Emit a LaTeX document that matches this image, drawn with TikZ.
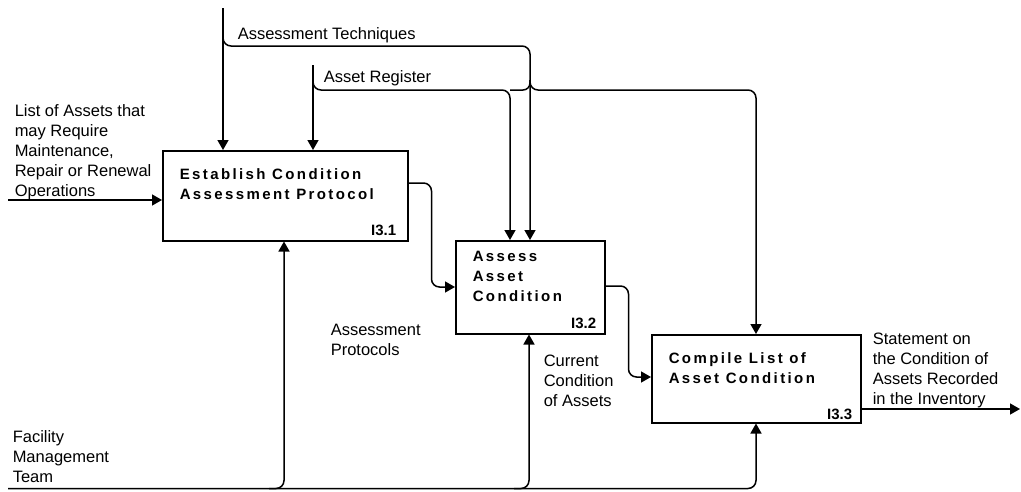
\documentclass[tikz,border=0pt]{standalone}
\usepackage{fontspec}
\setmainfont{Liberation Sans}
\newfontfamily\boxfont{Liberation Sans}[LetterSpace=16.0]
\usetikzlibrary{arrows.meta,calc}
\begin{document}
\begin{tikzpicture}[x=1pt,y=-1pt,line width=1.5pt,
  flow/.style={-{Triangle[length=10pt,width=11pt]},rounded corners=8pt},
  pipe/.style={rounded corners=7pt},
  activity/.style={draw,anchor=north west,inner sep=0pt},
  title/.style={anchor=base west,align=left,inner sep=0pt,
    font=\boxfont\bfseries\fontsize{15}{20}\selectfont},
  num/.style={anchor=base east,inner sep=0pt,font=\bfseries\fontsize{15}{18}\selectfont},
  lbl/.style={anchor=base west,align=left,inner sep=0pt,
    font=\fontsize{16.5}{20}\selectfont}]
\useasboundingbox (0,0) rectangle (1021,491);

% activity boxes
\node[activity,minimum width=245pt,minimum height=90pt] (b1) at (162,150) {};
\node[activity,minimum width=149pt,minimum height=93pt] (b2) at (455,240) {};
\node[activity,minimum width=209pt,minimum height=88pt] (b3) at (651,334) {};

% box titles (placed by the baseline of their last line)
\node[title] (t1) at (179,199) {Establish Condition\\Assessment Protocol};
\node[title] (t2) at (472,301) {Assess\\Asset\\Condition};
\node[title] (t3) at (668,383) {Compile List of\\Asset Condition};
\node[num] (n1) at (397,235) {I3.1};
\node[num] (n2) at (597,328) {I3.2};
\node[num] (n3) at (853,419) {I3.3};

% attachment points on the boxes
\coordinate (i1)  at ($(b1.north west)+(0,50)$);
\coordinate (c2a) at ($(b2.north west)+(55,0)$);
\coordinate (c2b) at ($(b2.north west)+(75,0)$);
\coordinate (c3)  at ($(b3.north west)+(105,0)$);
\coordinate (o1)  at ($(b1.north east)+(0,33)$);
\coordinate (i2)  at ($(b2.north west)+(0,47)$);
\coordinate (o2)  at ($(b2.north east)+(0,46)$);
\coordinate (i3)  at ($(b3.north west)+(0,43)$);
\coordinate (o3)  at ($(b3.north east)+(0,75)$);
\coordinate (m1)  at ($(b1.south west)+(122,0)$);
\coordinate (m2)  at ($(b2.south west)+(74,0)$);
\coordinate (m3)  at ($(b3.south west)+(105,0)$);

% free ends and branch points
\coordinate (inL) at (8,200);
\coordinate (techTop) at (223,8);
\coordinate (techSplit) at (223,30);
\coordinate (techRun) at (223,46);
\coordinate (regTop) at (313,65);
\coordinate (regSplit) at (313,75);
\coordinate (regRun) at (313,90);
\coordinate (jn) at ($(c2b |- regRun)+(0,-10)$);
\coordinate (outR) at (1020,409);
\coordinate (mechL) at (8,488.5);
\coordinate (m1f) at ($(mechL -| m1)+(-15,0)$);
\coordinate (m2f) at ($(mechL -| m2)+(-15,0)$);

% input
\draw[flow] (inL) -- (i1);

% controls
\draw[flow] (techTop) -- (techTop |- b1.north);
\draw[flow] (techSplit) -- (techRun) -- (techRun -| c2b) -- (c2b);
\draw[flow] (regTop) -- (regTop |- b1.north);
\draw[flow] (regSplit) -- (regRun) -- (regRun -| c2a) -- (c2a);
\draw[pipe] (regRun -| c2a) -- (regRun -| c2b) -- (jn);
\draw[flow] (jn) -- (jn |- regRun) -- (regRun -| c3) -- (c3);

% outputs
\draw[flow] (o1) -- ++(23,0) |- (i2);
\draw[flow] (o2) -- ++(23,0) |- (i3);
\draw[flow] (o3) -- (outR);

% mechanisms
\draw[flow] (mechL) -| (m3);
\draw[flow] (m1f) -| (m1);
\draw[flow] (m2f) -| (m2);

% labels (placed by the baseline of their last line)
\node[lbl] (lTech) at (237,39) {Assessment Techniques};
\node[lbl] (lReg) at (323,82) {Asset Register};
\node[lbl] (lIn) at (14,196) {List of Assets that\\may Require\\Maintenance,\\Repair or Renewal\\Operations};
\node[lbl] (lProt) at (330,355) {Assessment\\Protocols};
\node[lbl] (lCur) at (543,406) {Current\\Condition\\of Assets};
\node[lbl] (lOut) at (872,404) {Statement on\\the Condition of\\Assets Recorded\\in the Inventory};
\node[lbl] (lMech) at (12,482) {Facility\\Management\\Team};
\end{tikzpicture}
\end{document}
